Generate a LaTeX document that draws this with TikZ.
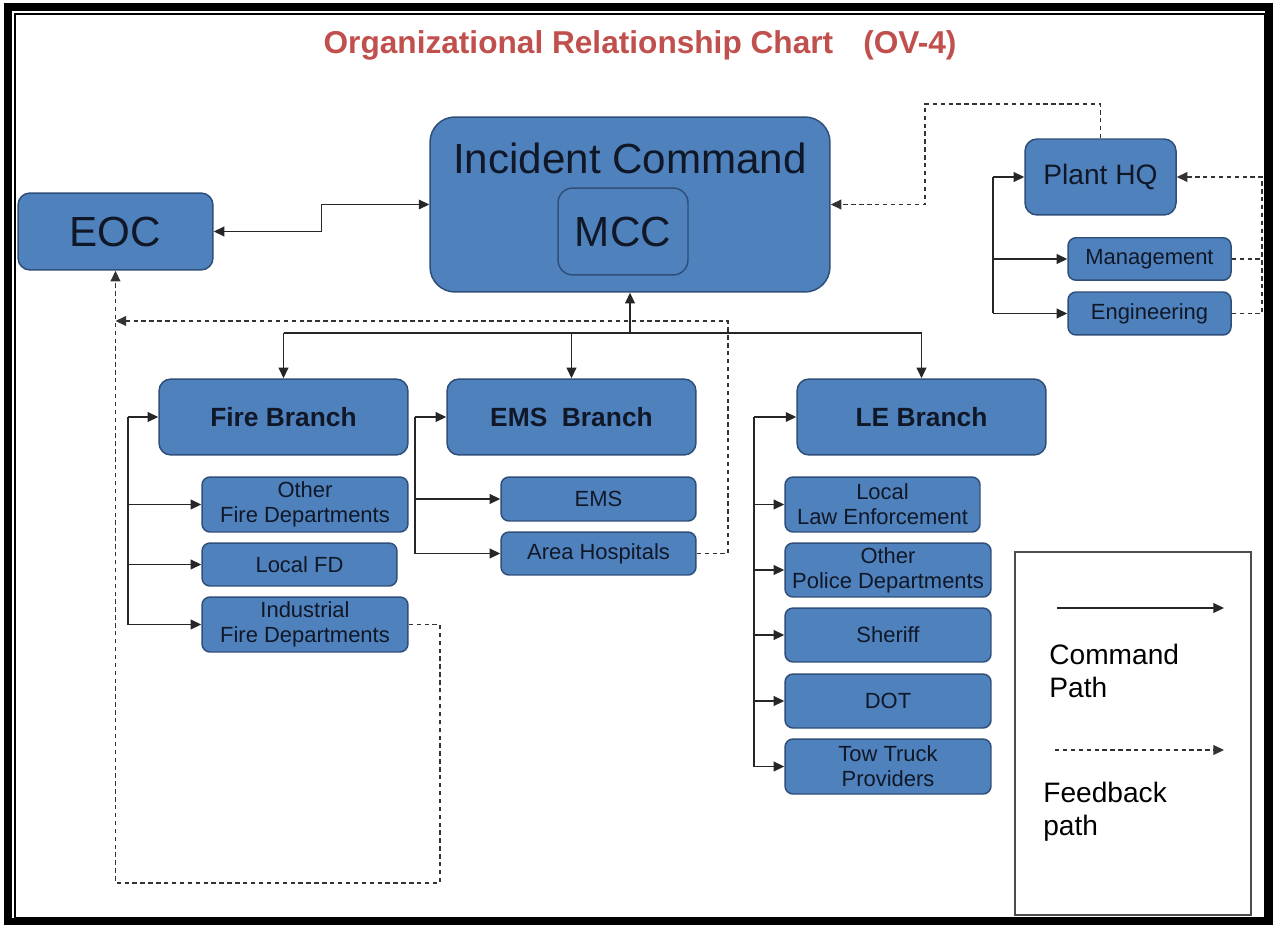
\documentclass[tikz,border=0pt]{standalone}
\usepackage{fontspec}
\setmainfont{Liberation Sans}
\usetikzlibrary{arrows.meta,calc}

\definecolor{boxblue}{HTML}{4F81BD}
\definecolor{boxline}{HTML}{2F4F7A}
\definecolor{boxtext}{HTML}{101828}
\definecolor{titlered}{HTML}{C0504D}

\tikzset{
  unit/.style={draw=boxline, fill=boxblue, line width=0.85pt, text=boxtext, align=center, inner sep=0pt},
  bigunit/.style={unit, rounded corners=0.5cm},
  branch/.style={unit, rounded corners=0.24cm, minimum width=4.98cm, minimum height=1.52cm, font=\fontsize{15}{17}\selectfont\bfseries},
  sub/.style={unit, rounded corners=0.16cm, font=\fontsize{12.5}{14.2}\selectfont},
  cmd/.style={-{Triangle[length=6pt,width=5.5pt]}, line width=0.8pt, black!85},
  bus/.style={line width=0.8pt, black!85},
  fb/.style={-{Triangle[length=6pt,width=5.5pt]}, line width=0.8pt, black!80, dash pattern=on 2.5pt off 2pt},
  fbline/.style={line width=0.8pt, black!80, dash pattern=on 2.5pt off 2pt}
}

\begin{document}
\begin{tikzpicture}[x=0.02cm, y=-0.02cm]
        \useasboundingbox (0,0) rectangle (1273,925);

        % Frame
        \draw[line width=4.5pt] (8,7) rectangle (1269,922);
        \draw[line width=0.9pt] (15,14) rectangle (1265,918);

        % Title
        \node[text=titlered, font=\fontsize{18}{20}\selectfont\bfseries] (title) at (640,45)
          {Organizational Relationship Chart\hspace{0.95em}(OV-4)};

        % Top level
        \node[bigunit, minimum width=8cm, minimum height=3.5cm] (ic) at (630,204.5) {};
        \node[font=\fontsize{24}{26}\selectfont, text=boxtext] (ictitle) at (630,158) {Incident Command};
        \node[unit, rounded corners=0.3cm, minimum width=2.6cm, minimum height=1.74cm,
              font=\fontsize{24}{26}\selectfont] (mcc) at (623,231.5) {MCC};
        \node[unit, rounded corners=0.24cm, minimum width=3.9cm, minimum height=1.54cm,
              font=\fontsize{24}{26}\selectfont] (eoc) at (115.5,231.5) {EOC};

        % Plant HQ
        \node[unit, rounded corners=0.24cm, minimum width=3.02cm, minimum height=1.52cm,
              font=\fontsize{16}{18}\selectfont] (hq) at (1100.5,177) {Plant HQ};
        \node[sub, minimum width=3.26cm, minimum height=0.85cm] (mgmt) at (1149.5,259) {Management};
        \node[sub, minimum width=3.26cm, minimum height=0.86cm] (eng) at (1149.5,313.5) {Engineering};

        % Branches
        \node[branch] (fire) at (283.5,417) {Fire Branch};
        \node[branch] (emsb) at (571.5,417) {EMS\ \ Branch};
        \node[branch] (le) at (921.5,417) {LE Branch};

        % Fire units
        \node[sub, minimum width=4.12cm, minimum height=1.1cm] (ofd) at (305,504.5) {Other\\Fire Departments};
        \node[sub, minimum width=3.9cm, minimum height=0.86cm] (lfd) at (299.5,564.5) {Local FD};
        \node[sub, minimum width=4.12cm, minimum height=1.1cm] (ifd) at (305,624.5) {Industrial\\Fire Departments};

        % EMS units
        \node[sub, minimum width=3.9cm, minimum height=0.88cm] (ems) at (598.5,499) {EMS};
        \node[sub, minimum width=3.9cm, minimum height=0.86cm] (ah) at (598.5,553.5) {Area Hospitals};

        % LE units
        \node[sub, minimum width=3.9cm, minimum height=1.1cm] (lle) at (882.5,504.5) {Local\\Law Enforcement};
        \node[sub, minimum width=4.12cm, minimum height=1.08cm] (opd) at (888,570) {Other\\Police Departments};
        \node[sub, minimum width=4.12cm, minimum height=1.08cm] (sheriff) at (888,635) {Sheriff};
        \node[sub, minimum width=4.12cm, minimum height=1.08cm] (dot) at (888,701) {DOT};
        \node[sub, minimum width=4.12cm, minimum height=1.1cm] (tow) at (888,766.5) {Tow Truck\\Providers};

        % Helper coordinates
        \coordinate (icbus) at (630,333);
        \coordinate (firebus) at (128,0);
        \coordinate (emsbus) at (415,0);
        \coordinate (lebus) at (754,0);
        \coordinate (hqcmd) at (993,0);
        \coordinate (hqfb) at (1262,0);
        \coordinate (hqloop) at (925,104);
        \coordinate (fbrow) at (728,321);
        \coordinate (fbcorner) at (440,883);

        % Command paths
        \draw[{Triangle[length=6pt,width=5.5pt]}-{Triangle[length=6pt,width=5.5pt]}, bus]
          (eoc.east) -| ($(eoc.east)!.5!(ic.west)$) |- (ic.west);
        \draw[cmd] (icbus) -- (ic.south);
        \draw[bus] (fire.north |- icbus) -- (le.north |- icbus);
        \foreach \n in {fire,emsb,le}
          \draw[cmd] (\n.north |- icbus) -- (\n.north);

        \draw[bus] (firebus |- fire.west) -- (firebus |- ifd.west);
        \foreach \n in {fire,ofd,lfd,ifd}
          \draw[cmd] (firebus |- \n.west) -- (\n.west);

        \draw[bus] (emsbus |- emsb.west) -- (emsbus |- ah.west);
        \foreach \n in {emsb,ems,ah}
          \draw[cmd] (emsbus |- \n.west) -- (\n.west);

        \draw[bus] (lebus |- le.west) -- (lebus |- tow.west);
        \foreach \n in {le,lle,opd,sheriff,dot,tow}
          \draw[cmd] (lebus |- \n.west) -- (\n.west);

        \draw[bus] (hqcmd |- hq.west) -- (hqcmd |- eng.west);
        \foreach \n in {hq,mgmt,eng}
          \draw[cmd] (hqcmd |- \n.west) -- (\n.west);

        % Feedback paths
        \draw[fb] (ah.east) -| (fbrow) -- (eoc.south |- fbrow);
        \draw[fb] (ifd.east) -| (fbcorner) -| (eoc.south);
        \draw[fb] (hq.north) |- (hqloop) |- (ic.east);
        \draw[fbline] (mgmt.east) -- (hqfb |- mgmt.east);
        \draw[fb] (eng.east) -- (hqfb |- eng.east) |- (hq.east);

        % Legend
        \node[draw=black!70, line width=0.8pt, minimum width=4.72cm, minimum height=7.26cm] (legend) at (1133,733.5) {};
        \coordinate (cmdA) at (1057,608);
        \coordinate (cmdB) at (1224,608);
        \coordinate (fbA) at (1055,750);
        \coordinate (fbB) at (1224,750);
        \draw[cmd] (cmdA) -- (cmdB);
        \draw[fb] (fbA) -- (fbB);
        \node[anchor=west, align=left, font=\fontsize{16}{18.7}\selectfont, inner sep=0pt] (cmdtext) at (1049,671) {Command\\Path};
        \node[anchor=west, align=left, font=\fontsize{16}{18.7}\selectfont, inner sep=0pt] (fbtext) at (1043,812) {Feedback\\path};
      \end{tikzpicture}
\end{document}
